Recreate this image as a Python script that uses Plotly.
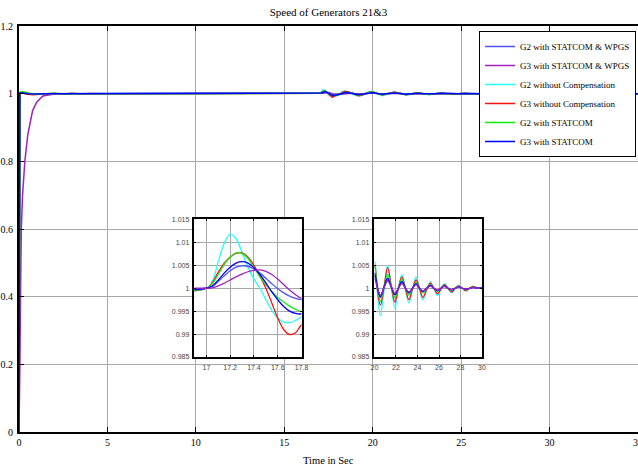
import plotly.graph_objects as go

# ---------------- data ----------------
time_s = [0, 0.02, 0.05, 0.1, 0.13, 0.2, 0.33, 0.5, 0.77, 1.0, 1.35, 2.0, 2.5, 3.0, 3.5, 4.0, 5.0, 10.0,
          17.0, 17.05, 17.1, 17.15, 17.2, 17.25, 17.3, 17.35, 17.4, 17.45, 17.5, 17.55, 17.6, 17.65, 17.7, 17.75, 17.8,
          18.0, 18.2, 18.4, 18.6, 18.8, 19.0, 19.2, 19.4, 19.6, 19.8, 20.0,
          20.25, 20.55, 20.88, 21.22, 21.56, 21.9, 22.22, 22.55, 22.88, 23.2, 23.53, 23.87, 24.18, 24.5, 24.85,
          25.2, 25.52, 25.85, 26.18, 26.5, 26.84, 27.18, 27.5, 27.85, 28.17, 28.5, 28.85, 29.2, 29.6, 30.0, 35.0]

g2_statcom_wpgs = [0, 0.98, 1.002, 1.003, 1.003, 1.002, 1.001, 1.0, 0.999, 0.999, 1.0, 1.0, 1.0, 1.0, 1.0, 1.0, 1.0, 1.0,
                   1.0, 1.0004, 1.0015, 1.0027, 1.0038, 1.0046, 1.0049, 1.0048, 1.0042, 1.0033, 1.0022, 1.001, 0.9999, 0.999, 0.9983, 0.9978, 0.9975,
                   0.998, 0.9995, 1.0015, 1.0025, 1.0015, 0.999, 0.998, 0.9985, 1.0005, 1.0025, 1.0027,
                   1.0004, 0.998, 1.0001, 1.0018, 1.0003, 0.9986, 1.0, 1.0013, 1.0, 0.999, 1.0, 1.0009, 1.0, 0.9993, 1.0,
                   1.0006, 1.0, 0.9995, 1.0, 1.0004, 1.0, 0.9997, 1.0, 1.0003, 1.0, 0.9998, 1.0, 1.0002, 1.0, 1.0001, 1.0]

g3_statcom_wpgs = [0, 0.05, 0.2, 0.47, 0.6, 0.7, 0.8, 0.88, 0.95, 0.975, 0.993, 0.999, 1.0, 1.0, 1.0, 1.0, 1.0, 1.0,
                   1.0, 1.0001, 1.0005, 1.0011, 1.0018, 1.0025, 1.0031, 1.0036, 1.0039, 1.004, 1.0037, 1.003, 1.002, 1.0008, 0.9996, 0.9986, 0.9978,
                   0.9975, 0.9988, 1.001, 1.002, 1.0015, 0.9995, 0.9985, 0.9988, 1.0003, 1.0018, 1.002,
                   1.0003, 0.9985, 1.0001, 1.0016, 1.0003, 0.9989, 1.0, 1.001, 1.0, 0.9992, 1.0, 1.0008, 1.0, 0.9994, 1.0,
                   1.0005, 1.0, 0.9996, 1.0, 1.0004, 1.0, 0.9997, 1.0, 1.0003, 1.0, 0.9998, 1.0, 1.0002, 1.0, 1.0001, 1.0]

g2_no_comp = [0, 0.97, 1.002, 1.003, 1.003, 1.002, 1.001, 1.0, 0.999, 0.999, 1.0, 1.0, 1.0, 1.0, 1.0, 1.0, 1.0, 1.0,
              1.0, 1.0015, 1.0058, 1.0098, 1.0118, 1.0108, 1.0078, 1.0045, 1.002, 1.0, 0.9975, 0.9952, 0.9935, 0.9926, 0.9925, 0.993, 0.9938,
              0.996, 1.003, 1.0075, 1.006, 1.001, 0.9955, 0.9935, 0.996, 1.0015, 1.0055, 1.0058,
              0.9995, 0.994, 0.9995, 1.005, 1.0003, 0.9957, 1.0, 1.0029, 0.9998, 0.9968, 0.9997, 1.0025, 1.0, 0.9975, 0.9996,
              1.0014, 1.0, 0.9984, 0.9998, 1.001, 1.0, 0.999, 0.9999, 1.0006, 1.0, 0.9994, 1.0, 1.0004, 1.0, 1.0001, 1.0]

g3_no_comp = [0, 0.96, 1.001, 1.003, 1.003, 1.002, 1.0, 0.998, 0.997, 0.9975, 0.999, 1.001, 0.9985, 1.001, 0.999, 1.0005, 1.0, 1.0,
              1.0, 1.0012, 1.0035, 1.0055, 1.0068, 1.0076, 1.0077, 1.0068, 1.005, 1.0027, 1.0, 0.9968, 0.9935, 0.991, 0.9899, 0.9903, 0.992,
              0.9955, 1.002, 1.0065, 1.006, 1.002, 0.9965, 0.994, 0.9955, 1.0005, 1.0045, 1.0048,
              1.0, 0.9963, 1.0002, 1.0045, 1.0005, 0.997, 1.0, 1.0025, 0.9998, 0.9975, 0.9998, 1.0018, 1.0, 0.998, 0.9997,
              1.0011, 1.0, 0.9988, 0.9998, 1.0008, 1.0, 0.9992, 1.0, 1.0005, 1.0, 0.9995, 1.0, 1.0004, 1.0, 1.0002, 1.0]

g2_statcom = [0, 0.97, 1.003, 1.005, 1.006, 1.006, 1.005, 1.002, 0.999, 0.998, 0.999, 1.001, 0.999, 1.0005, 0.9995, 1.0, 1.0, 1.0,
              1.0, 1.001, 1.003, 1.0052, 1.0068, 1.0077, 1.0076, 1.0065, 1.0045, 1.0025, 1.0008, 0.9993, 0.998, 0.997, 0.9961, 0.9954, 0.9949,
              0.9955, 0.9985, 1.003, 1.0045, 1.002, 0.998, 0.9962, 0.997, 1.0005, 1.004, 1.0046,
              1.0005, 0.9972, 1.0002, 1.003, 1.0004, 0.998, 1.0, 1.002, 1.0, 0.9985, 0.9999, 1.0013, 1.0, 0.999, 0.9999,
              1.0008, 1.0, 0.9993, 1.0, 1.0006, 1.0, 0.9995, 1.0, 1.0004, 1.0, 0.9997, 1.0, 1.0003, 1.0, 1.0001, 1.0]

g3_statcom = [0, 0.98, 1.002, 1.003, 1.003, 1.002, 1.001, 1.0, 0.999, 0.999, 1.0, 1.0, 1.0, 1.0, 1.0, 1.0, 1.0, 1.0,
              1.0, 1.0005, 1.0018, 1.0033, 1.0046, 1.0055, 1.0058, 1.0055, 1.0045, 1.003, 1.0012, 0.9992, 0.9975, 0.996, 0.995, 0.9945, 0.9944,
              0.996, 0.999, 1.0025, 1.0035, 1.0015, 0.9985, 0.997, 0.998, 1.0005, 1.003, 1.0032,
              1.0005, 0.9982, 1.0002, 1.0022, 1.0003, 0.9986, 1.0, 1.0015, 1.0, 0.999, 1.0, 1.001, 1.0, 0.9993, 1.0,
              1.0006, 1.0, 0.9995, 1.0, 1.0005, 1.0, 0.9997, 1.0, 1.0003, 1.0, 0.9998, 1.0, 1.0002, 1.0, 1.0001, 1.0]

series_names = ["G2 with STATCOM & WPGS", "G3 with STATCOM & WPGS", "G2 without Compensation",
                "G3 without Compensation", "G2 with STATCOM", "G3 with STATCOM"]
series_values = [g2_statcom_wpgs, g3_statcom_wpgs, g2_no_comp, g3_no_comp, g2_statcom, g3_statcom]
series_colors = ["#5050ff", "#a020c0", "#22ffff", "#ff1010", "#10ee10", "#0000ff"]

main_xticks = [0, 5, 10, 15, 20, 25, 30, 35]
main_yticks = [0, 0.2, 0.4, 0.6, 0.8, 1.0, 1.2]
main_ytext = ["0", "0.2", "0.4", "0.6", "0.8", "1", "1.2"]
inset_yticks = [0.985, 0.99, 0.995, 1.0, 1.005, 1.01, 1.015]
inset_ytext = ["0.985", "0.99", "0.995", "1", "1.005", "1.01", "1.015"]
inset1_xticks = [17, 17.2, 17.4, 17.6, 17.8]
inset2_xticks = [20, 22, 24, 26, 28, 30]

# ---------------- figure ----------------
fig = go.Figure()
draw_order = [2, 3, 4, 0, 5, 1]
for i in range(len(series_names)):
    fig.add_trace(go.Scatter(x=time_s, y=series_values[i], mode="lines", name=series_names[i],
                             line=dict(color=series_colors[i], width=1.5), xaxis="x", yaxis="y",
                             showlegend=True))
for ax in [("x2", "y2"), ("x3", "y3")]:
    for i in draw_order:
        fig.add_trace(go.Scatter(x=time_s, y=series_values[i], mode="lines", name=series_names[i],
                                 line=dict(color=series_colors[i], width=1.3, shape="spline"),
                                 xaxis=ax[0], yaxis=ax[1], showlegend=False))

serif = "Liberation Serif, Times New Roman, serif"
sans = "Liberation Sans, Arial, sans-serif"
grid = "#a8a8a8"

inset_x_common = dict(showline=True, mirror="ticks", linecolor="black", linewidth=1.5,
                      showgrid=True, gridcolor=grid, gridwidth=1, ticks="inside", ticklen=2,
                      tickcolor="black", zeroline=False, tickfont=dict(family=sans, size=7, color="#444"),
                      automargin=False, ticklabelstandoff=3)
inset_y_common = dict(showline=True, mirror="ticks", linecolor="black", linewidth=1.5,
                      showgrid=True, gridcolor=grid, gridwidth=1, ticks="inside", ticklen=2,
                      tickcolor="black", zeroline=False, tickfont=dict(family=sans, size=7, color="#444"),
                      range=[0.985, 1.015], tickvals=inset_yticks, ticktext=inset_ytext,
                      automargin=False, ticklabelstandoff=2)

fig.update_layout(
    width=638, height=468,
    margin=dict(l=19, r=0, t=26, b=36),
    paper_bgcolor="white", plot_bgcolor="white",
    font=dict(family=serif, size=10, color="black"),
    title=dict(text="Speed of Generators 21&3", x=0.5, xref="paper", xanchor="center",
               y=1 - 12 / 468, yref="container", yanchor="middle",
               font=dict(family=serif, size=11, color="black")),
    xaxis=dict(range=[0, 35], tickvals=main_xticks, showline=True, linecolor="black", linewidth=2,
               mirror="ticks", ticks="inside", ticklen=5, tickcolor="black", showgrid=True,
               gridcolor=grid, gridwidth=1, zeroline=False, automargin=False,
               ticklabeloverflow="allow", tickfont=dict(family=serif, size=10)),
    yaxis=dict(range=[0, 1.2], tickvals=main_yticks, ticktext=main_ytext, showline=True,
               linecolor="black", linewidth=2, mirror=False, ticks="inside", ticklen=5,
               tickcolor="black", showgrid=True, gridcolor=grid, gridwidth=1, zeroline=False,
               automargin=False, tickfont=dict(family=serif, size=10), ticklabelstandoff=2),
    xaxis2=dict(domain=[0.2835, 0.4564], range=[16.9, 17.8], tickvals=inset1_xticks,
                anchor="y2", **inset_x_common),
    yaxis2=dict(domain=[0.1847, 0.5234], anchor="x2", **inset_y_common),
    xaxis3=dict(domain=[0.5743, 0.748], range=[20, 30], tickvals=inset2_xticks,
                anchor="y3", **inset_x_common),
    yaxis3=dict(domain=[0.1847, 0.5234], anchor="x3", **inset_y_common),
    legend=dict(x=0.9968, y=0.9877, xanchor="right", yanchor="top", bgcolor="white",
                bordercolor="black", borderwidth=1, font=dict(family=serif, size=9, color="black"),
                tracegroupgap=0),
    annotations=[dict(text="Time in Sec", x=0.5, xref="paper", y=-0.069, yref="paper",
                      xanchor="center", yanchor="middle", showarrow=False,
                      font=dict(family=serif, size=10.5, color="black"))],
)

fig.write_html("out.html", config={"displayModeBar": False},
               post_script="document.body.style.margin='0';document.body.style.overflow='hidden';")
